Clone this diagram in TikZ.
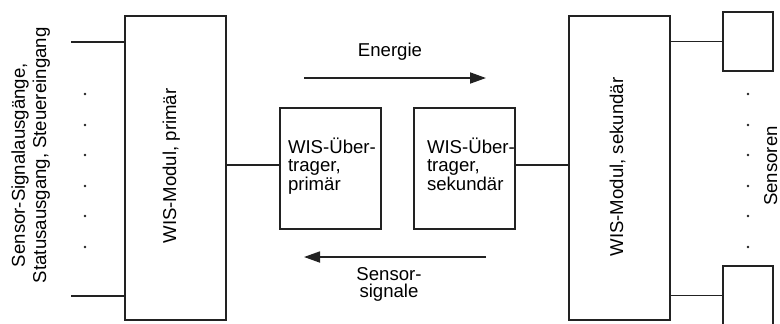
\documentclass[tikz,border=0pt]{standalone}
\usepackage{fontspec}
\setmainfont{Liberation Sans}
\usetikzlibrary{arrows.meta}
\definecolor{ink}{HTML}{222222}
\begin{document}
\begin{tikzpicture}[x=0.5pt,y=-0.5pt,
  every node/.style={inner sep=0pt,outer sep=0pt,text=black,font=\fontsize{9.3}{9.3}\selectfont},
  box/.style={draw=ink,line width=1.1pt},
  wire/.style={draw=ink,line width=0.9pt},
  flow/.style={draw=ink,line width=0.9pt,-{Triangle[length=8pt,width=5.5pt]}},
  dot/.style={fill=ink},
  txt/.style={anchor=base west},
  rtxt/.style={rotate=90,anchor=base}]
\useasboundingbox (0,0) rectangle (780,323);
% modules
\node[box,minimum width=50.5pt,minimum height=152pt] (pm) at (175.5,168) {};
\node[box,minimum width=50.5pt,minimum height=152pt] (sm) at (619.5,168) {};
\node[rtxt] (pmt) at (176,166) {WIS-Modul, primär};
\node[rtxt] (smt) at (623,167) {WIS-Modul, sekundär};
% transformers
\node[box,minimum width=50.5pt,minimum height=60.5pt] (tp) at (330.5,168.5) {};
\node[box,minimum width=50.5pt,minimum height=60.5pt] (ts) at (464.5,168.5) {};
\node[txt] (tp1) at (288,153) {WIS-Über-};
\node[txt] (tp2) at (288,171.5) {trager,};
\node[txt] (tp3) at (288,190) {primär};
\node[txt] (ts1) at (427,153) {WIS-Über-};
\node[txt] (ts2) at (427,171.5) {trager,};
\node[txt] (ts3) at (427,190) {sekundär};
% sensors
\node[box,minimum width=25pt,minimum height=29.5pt] (s1) at (748,41.5) {};
\node[box,minimum width=25pt,minimum height=29.5pt] (s2) at (748,295.5) {};
\node[rtxt] (sen) at (777,166) {Sensoren};
% left label
\node[rotate=90,anchor=base west] (lab1) at (25,267) {Sensor-Signalausgänge,};
\node[rotate=90,anchor=base west] (lab2) at (46,283) {Statusausgang, Steuereingang};
% left wires
\coordinate (la) at (71,42);
\coordinate (lb) at (71,296);
\draw[wire] (la) -- (la -| pm.west);
\draw[wire] (lb) -- (lb -| pm.west);
% middle wires
\coordinate (mid) at (0,165);
\draw[wire] (pm.east |- mid) -- (tp.west |- mid);
\draw[wire] (ts.east |- mid) -- (sm.west |- mid);
% right wires
\draw[wire] (sm.east |- s1.west) -- (s1.west);
\draw[wire] (sm.east |- s2.west) -- (s2.west);
% arrows
\coordinate (ea) at (304,78);
\coordinate (eb) at (486,78);
\coordinate (sa) at (486,257);
\coordinate (sb) at (304,257);
\draw[flow] (ea) -- (eb);
\draw[flow] (sa) -- (sb);
\node[anchor=base] (en) at (390,56) {Energie};
\node[anchor=base] (ss1) at (389,280) {Sensor-};
\node[anchor=base] (ss2) at (389,297) {signale};
% dots
\foreach \y in {94,125,155,186,216,247}{
  \fill[dot] (85,\y) circle[radius=0.7pt];
  \fill[dot] (748,\y) circle[radius=0.7pt];
}
\end{tikzpicture}
\end{document}
